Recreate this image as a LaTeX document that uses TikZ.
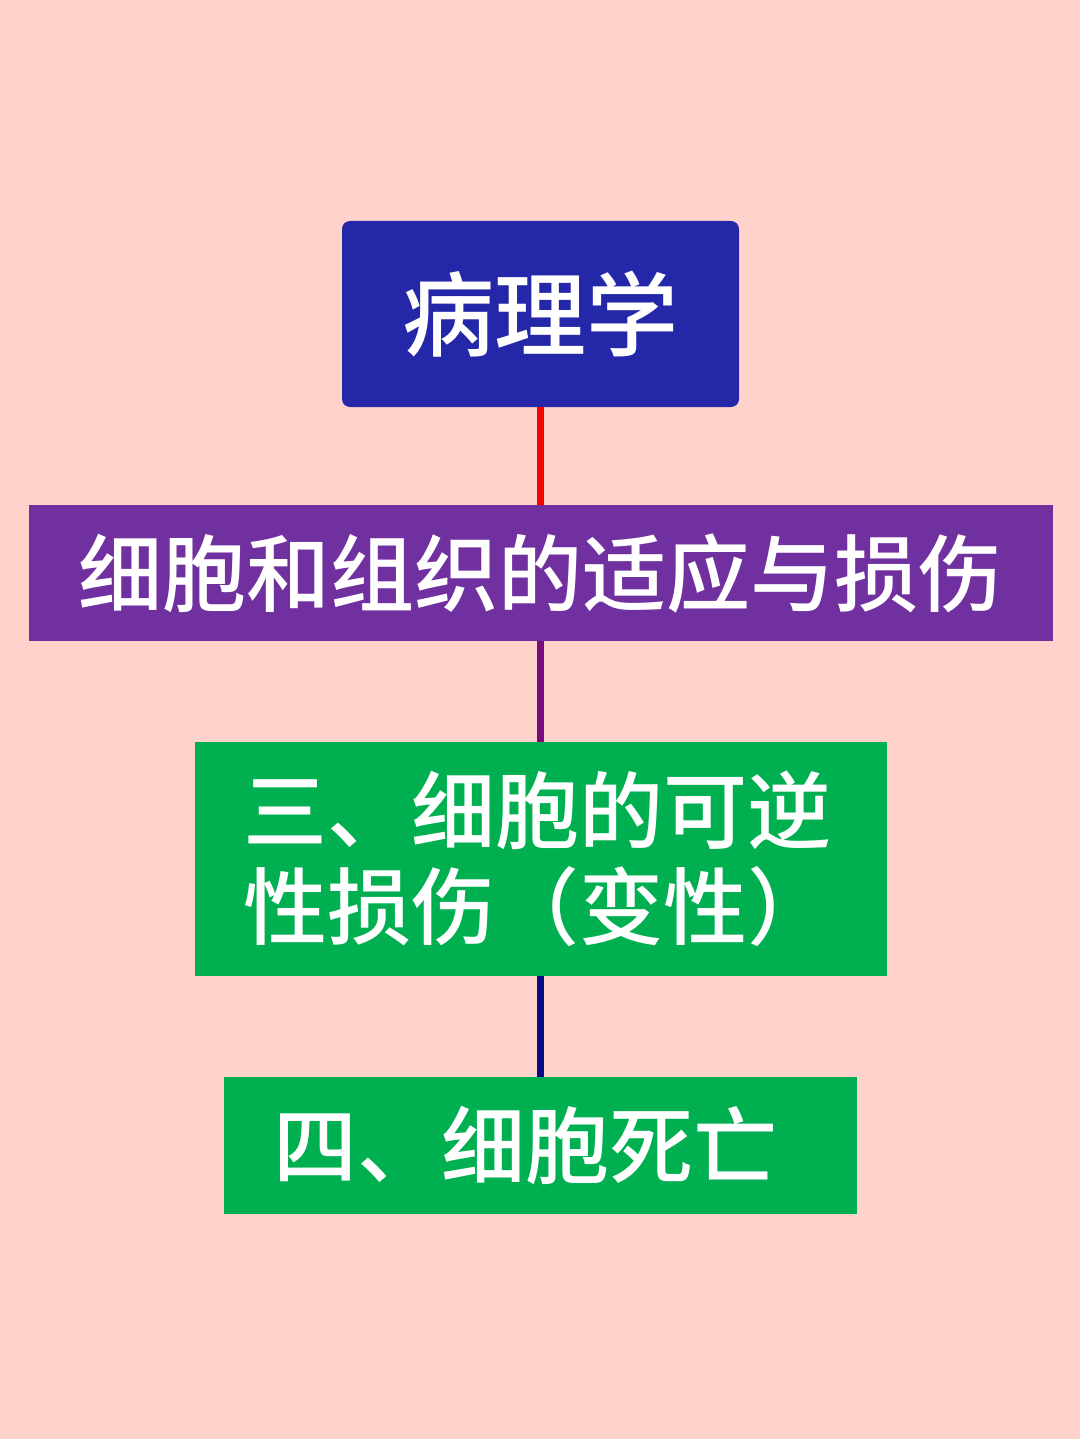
\documentclass[tikz,border=0pt]{standalone}
\usepackage{fontspec}
\newfontfamily\cjk{Noto Sans CJK SC Medium}
\usetikzlibrary{positioning}

\definecolor{bgpink}{HTML}{FFD3CC}
\definecolor{titleblue}{HTML}{2428A8}
\definecolor{chappurple}{HTML}{7030A0}
\definecolor{secgreen}{HTML}{00B050}
\definecolor{linepurple}{HTML}{7A0A80}
\definecolor{linenavy}{HTML}{0A0A88}

\begin{document}
\begin{tikzpicture}[
            x=0.5pt, y=-0.5pt,
            every node/.style = {
                shape=rectangle, outer sep=0pt,
                text=white, font=\cjk
            },
            node distance=50pt,
            titlebox/.style = {fill=titleblue, rounded corners=4pt,
                minimum width=198.5pt, minimum height=93pt,
                font=\cjk\fontsize{46pt}{50pt}\selectfont},
            chapbox/.style = {fill=chappurple,
                minimum width=512pt, minimum height=68pt,
                font=\cjk\fontsize{42pt}{48pt}\selectfont},
            secbox/.style = {fill=secgreen, align=left,
                inner xsep=24.5pt, inner ysep=0pt,
                font=\cjk\fontsize{42pt}{48pt}\selectfont},
            link/.style = {line width=3.2pt}
        ]
        % page
        \fill[bgpink] (0,0) rectangle (1080,1439);
        \useasboundingbox (0,0) rectangle (1080,1439);

            \node[titlebox] (patho) at (540.5,314) {病理学};
            \node[chapbox, below=49pt of patho] (adapt) {细胞和组织的适应与损伤};
            \node[secbox, below=50.5pt of adapt, text width=297pt,
                minimum height=117pt] (revers) {三、细胞的可逆\\性损伤（变性）};
            \node[secbox, below=50.5pt of revers, text width=267.5pt,
                minimum height=68.5pt] (death) {四、细胞死亡};

            \draw[link, red] (patho.south) -- (adapt.north);
            \draw[link, linepurple] (adapt.south) -- (revers.north);
            \draw[link, linenavy] (revers.south) -- (death.north);
        \end{tikzpicture}
\end{document}
